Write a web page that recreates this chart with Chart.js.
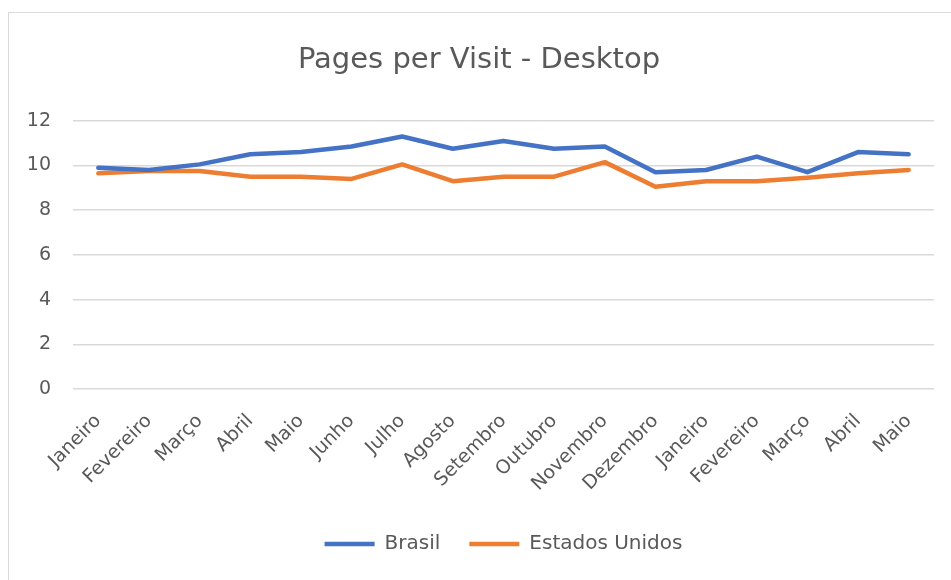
<!DOCTYPE html>
<html>
<head>
<meta charset="utf-8">
<script src="https://cdn.jsdelivr.net/npm/chart.js@4.4.1/dist/chart.umd.min.js"></script>
<style>
    body { margin: 0; background: #ffffff; overflow: hidden; }
    #frame { position: absolute; left: 8px; top: 12px; width: 960px; height: 600px; border-left: 1.5px solid #d9d9d9; border-top: 1.5px solid #d9d9d9; }
    #visits-graph { position: absolute; left: 0; top: 0; }
</style>
</head>
<body>
<div id="frame"></div>
<canvas id="visits-graph" width="951" height="580"></canvas>
<script>
const months = ['Janeiro', 'Fevereiro', 'Março', 'Abril', 'Maio', 'Junho', 'Julho', 'Agosto', 'Setembro',
    'Outubro', 'Novembro', 'Dezembro', 'Janeiro', 'Fevereiro', 'Março', 'Abril', 'Maio'];
const brasil = [9.9, 9.8, 10.05, 10.5, 10.6, 10.85, 11.3, 10.75, 11.1, 10.75, 10.85, 9.7, 9.8, 10.4, 9.7, 10.6, 10.5];
const estadosUnidos = [9.65, 9.75, 9.75, 9.5, 9.5, 9.4, 10.05, 9.3, 9.5, 9.5, 10.15, 9.05, 9.3, 9.3, 9.45, 9.65, 9.8];
const yMin = 0;
const yMax = 12;
const yStep = 2;

function pagesGraph() { // line chart of pages per visit, two countries
    const ctx = document.getElementById('visits-graph').getContext('2d');
    const textColor = '#595959';
    const fontFamily = '"DejaVu Sans", sans-serif';
    new Chart(ctx, {
        type: 'line',
        data: {
            labels: months,
            datasets: [
                {
                    label: 'Brasil',
                    data: brasil,
                    borderColor: '#4472C4',
                    backgroundColor: '#4472C4',
                    borderWidth: 4.5,
                    borderCapStyle: 'round',
                    borderJoinStyle: 'round',
                    pointRadius: 0,
                    tension: 0
                },
                {
                    label: 'Estados Unidos',
                    data: estadosUnidos,
                    borderColor: '#ED7D31',
                    backgroundColor: '#ED7D31',
                    borderWidth: 4.5,
                    borderCapStyle: 'round',
                    borderJoinStyle: 'round',
                    pointRadius: 0,
                    tension: 0
                }
            ]
        },
        options: {
            responsive: false,
            animation: false,
            layout: {
                padding: { left: 24, right: 17, top: 30, bottom: 16 }
            },
            plugins: {
                title: {
                    display: true,
                    text: 'Pages per Visit - Desktop',
                    color: textColor,
                    font: { family: fontFamily, size: 29, weight: 'normal' },
                    padding: { top: 13, bottom: 43 }
                },
                legend: {
                    position: 'bottom',
                    fullSize: false,
                    labels: {
                        color: textColor,
                        font: { family: fontFamily, size: 20 },
                        usePointStyle: true,
                        pointStyle: 'line',
                        pointStyleWidth: 50,
                        padding: 29
                    }
                },
                tooltip: { enabled: false }
            },
            scales: {
                x: {
                    offset: true,
                    grid: { display: false },
                    border: { display: false },
                    ticks: {
                        color: textColor,
                        font: { family: fontFamily, size: 19 },
                        maxRotation: 45,
                        minRotation: 45,
                        autoSkip: false,
                        padding: 13
                    },
                    afterFit: scale => { scale.height = 116; }
                },
                y: {
                    min: yMin,
                    max: yMax,
                    grid: { color: '#d9d9d9', lineWidth: 1.5, drawTicks: false },
                    border: { display: false },
                    ticks: {
                        stepSize: yStep,
                        color: textColor,
                        font: { family: fontFamily, size: 19 },
                        padding: 22
                    },
                    afterFit: scale => { scale.width = 49; }
                }
            }
        }
    });
}

window.onload = () => {
    pagesGraph();
}
</script>
</body>
</html>
